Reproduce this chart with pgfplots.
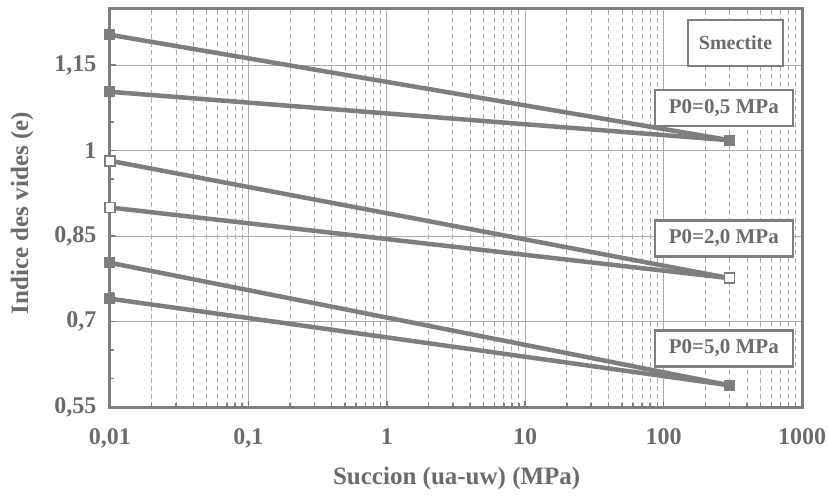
\documentclass[border=0pt]{standalone}
\usepackage{pgfplots}
\pgfplotsset{compat=1.18}
\usepackage{fontspec}
\setmainfont{Liberation Serif}
\definecolor{ln}{HTML}{7E7E7E}
\definecolor{tx}{HTML}{6B6B6B}
\definecolor{gd}{HTML}{ABABAB}
\begin{document}
\begin{tikzpicture}
\useasboundingbox (-110bp,-94bp) rectangle (718bp,407bp);
\begin{axis}[
 at={(0,0)}, anchor=south west,
 scale only axis, width=692bp, height=399bp,
 xmode=log, xmin=0.01, xmax=1000, ymin=0.55, ymax=1.25,
 xtick={0.01,0.1,1,10,100,1000},
 xticklabels={{0,01},{0,1},1,10,100,1000},
 ytick={0.55,0.7,0.85,1,1.15},
 yticklabels={{0,55},{0,7},{0,85},1,{1,15}},
 minor ytick={0.6,0.65,0.75,0.8,0.9,0.95,1.05,1.1,1.2},
 xmajorgrids, xminorgrids, ymajorgrids,
 major grid style={gd, line width=1bp},
 minor grid style={gd, line width=0.8bp, dash pattern=on 5bp off 3bp},
 axis line style={ln, line width=3bp},
 tick style={ln, line width=1.5bp},
 major tick length=6bp, minor tick length=4bp,
 xtick pos=bottom, ytick pos=left, tick align=inside,
 ticklabel style={font=\fontsize{24bp}{28bp}\selectfont\bfseries, text=tx},
 yticklabel style={xshift=-10bp},
 xticklabel style={yshift=-18bp},
 xlabel={Succion (ua-uw) (MPa)}, ylabel={Indice des vides (e)},
 every axis x label/.style={at={(axis description cs:0.501,-0.178)}, anchor=center, font=\fontsize{25bp}{30bp}\selectfont\bfseries, text=tx},
 every axis y label/.style={at={(axis description cs:-0.127,0.486)}, anchor=center, rotate=90, font=\fontsize{25bp}{30bp}\selectfont\bfseries, text=tx},
 clip=false,
]
% P0 = 0,5 MPa
\addplot[ln, line width=4.5bp, mark=square*, mark size=5bp, mark options={fill=ln, draw=ln, line width=1bp}] coordinates {(0.01,1.203) (300,1.018)};
\addplot[ln, line width=4.5bp, mark=square*, mark size=5bp, mark options={fill=ln, draw=ln, line width=1bp}] coordinates {(0.01,1.103) (300,1.018)};
% P0 = 2,0 MPa
\addplot[ln, line width=4.5bp, mark=square*, mark size=5bp, mark options={fill=white, draw=ln, line width=1.5bp}] coordinates {(0.01,0.982) (300,0.776)};
\addplot[ln, line width=4.5bp, mark=square*, mark size=5bp, mark options={fill=white, draw=ln, line width=1.5bp}] coordinates {(0.01,0.900) (300,0.776)};
% P0 = 5,0 MPa
\addplot[ln, line width=4.5bp, mark=square*, mark size=5bp, mark options={fill=ln, draw=ln, line width=1bp}] coordinates {(0.01,0.803) (300,0.588)};
\addplot[ln, line width=4.5bp, mark=square*, mark size=5bp, mark options={fill=ln, draw=ln, line width=1bp}] coordinates {(0.01,0.740) (300,0.588)};
\tikzset{lab/.style={draw=ln, line width=2.5bp, fill=white, inner sep=0pt, text=tx, font=\fontsize{21bp}{24bp}\selectfont\bfseries}}
\node[lab, minimum width=95bp, minimum height=46bp, font=\fontsize{20bp}{24bp}\selectfont\bfseries] at (rel axis cs:0.904,0.912) {Smectite};
\node[lab, minimum width=138bp, minimum height=36bp] at (rel axis cs:0.887,0.749) {P0=0,5 MPa};
\node[lab, minimum width=138bp, minimum height=36bp] at (rel axis cs:0.887,0.422) {P0=2,0 MPa};
\node[lab, minimum width=138bp, minimum height=36bp] at (rel axis cs:0.887,0.147) {P0=5,0 MPa};
\end{axis}
\end{tikzpicture}
\end{document}
